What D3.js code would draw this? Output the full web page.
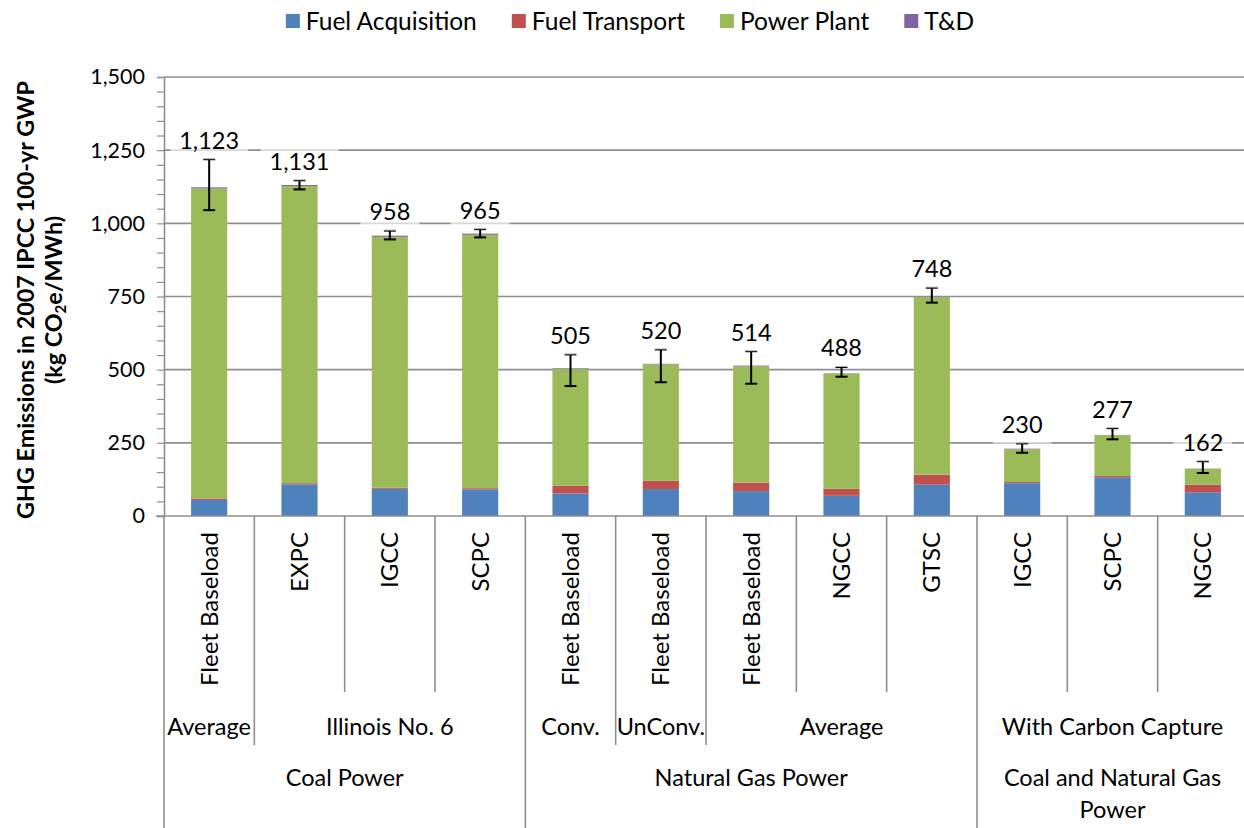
<!DOCTYPE html>
<html>
<head>
<meta charset="utf-8">
<script src="https://cdn.jsdelivr.net/npm/d3@7"></script>
<style>
  html, body { margin: 0; padding: 0; background: #fff; }
  svg { display: block; font-family: Lato, "Open Sans", sans-serif; }
</style>
</head>
<body>
<svg id="chart" width="1244" height="828"></svg>
<script>
// ---- data ----
const categories = ["Fleet Baseload","EXPC","IGCC","SCPC","Fleet Baseload","Fleet Baseload","Fleet Baseload","NGCC","GTSC","IGCC","SCPC","NGCC"];
const subGroupLabels = ["Average","Illinois No. 6","Conv.","UnConv.","Average","With Carbon Capture"];
const subGroupSpans = [1,3,1,1,3,3];
const topGroupLabels = [["Coal Power"],["Natural Gas Power"],["Coal and Natural Gas","Power"]];
const topGroupSpans = [4,5,3];

const seriesNames = ["Fuel Acquisition","Fuel Transport","Power Plant","T&D"];
const fuelAcquisition = [55,108,93,91,77,92,85,69,107,112,132,81];
const fuelTransport   = [5,4,4,4,26,28,29,24,34,4,5,26];
const powerPlant      = [1059,1015,857,866,400,398,398,394,606,112,139,54];
const tAndD           = [4,4,4,4,2,2,2,1,1,2,1,1];
const totals = [1123,1131,958,965,505,520,514,488,748,230,277,162];
const errLow  = [1045,1116,945,952,444,457,452,476,729,216,262,147];
const errHigh = [1219,1147,975,980,552,569,563,509,780,248,300,187];
const yTicks = [0,250,500,750,1000,1250,1500];

const colors = ["#4F81BD","#C0504D","#9BBB59","#8064A2"];

// ---- layout ----
const svg = d3.select("#chart");
const x0 = 164, x1 = 1248, yBase = 516, yTop = 77;
const x = d3.scaleBand().domain(d3.range(categories.length)).range([x0, x1]).paddingInner(0.6).paddingOuter(0.3);
const y = d3.scaleLinear().domain([0, 1500]).range([yBase, yTop]);
const step = x.step();
const gridColor = "#8f8f8f";
const fmt = d3.format(",");

// gridlines
svg.append("g").selectAll("line").data(yTicks.filter(d => d > 0)).join("line")
  .attr("x1", x0).attr("x2", 1244).attr("y1", d => y(d)).attr("y2", d => y(d))
  .attr("stroke", gridColor).attr("stroke-width", 1.6);

// y axis with minor ticks
const yAxisMinor = d3.axisLeft(y).tickValues(d3.range(0, 1501, 50)).tickSize(7).tickFormat("");
const gMinor = svg.append("g").attr("transform", `translate(${x0},0)`).call(yAxisMinor);
gMinor.select(".domain").attr("stroke", gridColor).attr("stroke-width", 1.6);
gMinor.selectAll(".tick line").attr("stroke", gridColor).attr("stroke-width", 1.2);
const yAxis = d3.axisLeft(y).tickValues(yTicks).tickSize(0).tickPadding(19).tickFormat(fmt);
const gY = svg.append("g").attr("transform", `translate(${x0},0)`).call(yAxis);
gY.select(".domain").remove();
gY.selectAll("text").attr("font-size", 21.5).attr("fill", "#000").attr("font-family", "Lato, sans-serif");

// stacked bars
const rows = categories.map((c, i) => ({i, a: fuelAcquisition[i], b: fuelTransport[i], c: powerPlant[i], d: tAndD[i]}));
const stack = d3.stack().keys(["a","b","c","d"])(rows);
svg.append("g").selectAll("g").data(stack).join("g")
  .attr("fill", (d, k) => colors[k])
  .selectAll("rect").data(d => d).join("rect")
  .attr("x", d => x(d.data.i)).attr("width", x.bandwidth())
  .attr("y", d => y(d[1])).attr("height", d => y(d[0]) - y(d[1]));

// error bars
const eg = svg.append("g").attr("stroke", "#000").attr("stroke-width", 2);
categories.forEach((c, i) => {
  const cx = x(i) + x.bandwidth() / 2;
  eg.append("line").attr("x1", cx).attr("x2", cx).attr("y1", y(errLow[i])).attr("y2", y(errHigh[i]));
  [errLow[i], errHigh[i]].forEach(v => eg.append("line").attr("x1", cx - 6).attr("x2", cx + 6).attr("y1", y(v)).attr("y2", y(v)));
});

// total labels with translucent white boxes
const lg = svg.append("g");
categories.forEach((c, i) => {
  const cx = x(i) + x.bandwidth() / 2;
  const cy = y(errHigh[i]) - 19;
  const g = lg.append("g");
  const rect = g.append("rect").attr("fill", "#fff").attr("fill-opacity", 0.65);
  const t = g.append("text").attr("x", cx).attr("y", cy).attr("dy", "0.36em")
    .attr("text-anchor", "middle").attr("font-size", 23.5).text(fmt(totals[i]));
  const w = t.node().getComputedTextLength();
  rect.attr("x", cx - w / 2 - 9).attr("width", w + 18).attr("y", cy - 19).attr("height", 38);
});

// x axis line
svg.append("line").attr("x1", x0 - 8).attr("x2", 1244).attr("y1", yBase).attr("y2", yBase)
  .attr("stroke", gridColor).attr("stroke-width", 1.6);

// category separators
const subBounds = [0]; subGroupSpans.forEach(s => subBounds.push(subBounds[subBounds.length - 1] + s));
const topBounds = [0]; topGroupSpans.forEach(s => topBounds.push(topBounds[topBounds.length - 1] + s));
const sep = svg.append("g").attr("stroke", gridColor).attr("stroke-width", 1.6);
d3.range(categories.length + 1).forEach(k => {
  let bottom = 692;
  if (topBounds.includes(k)) bottom = 828;
  else if (subBounds.includes(k)) bottom = 745;
  const xx = x0 + k * step;
  sep.append("line").attr("x1", xx).attr("x2", xx).attr("y1", yBase).attr("y2", bottom);
});

// level 1 labels (rotated)
svg.append("g").selectAll("text").data(categories).join("text")
  .attr("transform", (d, i) => `translate(${x(i) + x.bandwidth() / 2},532) rotate(-90)`)
  .attr("text-anchor", "end").attr("dy", "0.36em").attr("font-size", 24).text(d => d);

// level 2 labels
svg.append("g").selectAll("text").data(subGroupLabels).join("text")
  .attr("x", (d, k) => x0 + (subBounds[k] + subBounds[k + 1]) / 2 * step)
  .attr("y", 727).attr("dy", "0.36em").attr("text-anchor", "middle").attr("font-size", 23.5).text(d => d);

// level 3 labels
const tg = svg.append("g");
topGroupLabels.forEach((lines, k) => {
  const cx = x0 + (topBounds[k] + topBounds[k + 1]) / 2 * step;
  lines.forEach((ln, j) => tg.append("text").attr("x", cx).attr("y", 778 + j * 32).attr("dy", "0.36em")
    .attr("text-anchor", "middle").attr("font-size", 23.5).text(ln));
});

// y axis title
const yt = svg.append("g").attr("transform", "translate(0,300) rotate(-90)");
yt.append("text").attr("x", 0).attr("y", 26).attr("dy", "0.36em").attr("text-anchor", "middle")
  .attr("font-weight", "bold").attr("font-size", 23.3).text("GHG Emissions in 2007 IPCC 100-yr GWP");
const t2 = yt.append("text").attr("x", 0).attr("y", 54).attr("dy", "0.36em").attr("text-anchor", "middle")
  .attr("font-weight", "bold").attr("font-size", 23.3);
t2.append("tspan").text("(kg CO");
t2.append("tspan").attr("font-size", 15).attr("dy", "0.25em").text("2");
t2.append("tspan").attr("dy", "-0.18em").text("e/MWh)");

// legend
const leg = svg.append("g");
let lx = 0;
seriesNames.forEach((name, k) => {
  const g = leg.append("g").attr("transform", `translate(${lx},0)`);
  g.append("rect").attr("x", 0).attr("y", 14).attr("width", 14).attr("height", 14).attr("fill", colors[k]);
  const t = g.append("text").attr("x", 20).attr("y", 21).attr("dy", "0.36em").attr("font-size", 24.5).text(name);
  lx += 20 + t.node().getComputedTextLength() + 35;
});
const legW = lx - 35;
leg.attr("transform", `translate(${630 - legW / 2},0)`);
</script>
</body>
</html>
